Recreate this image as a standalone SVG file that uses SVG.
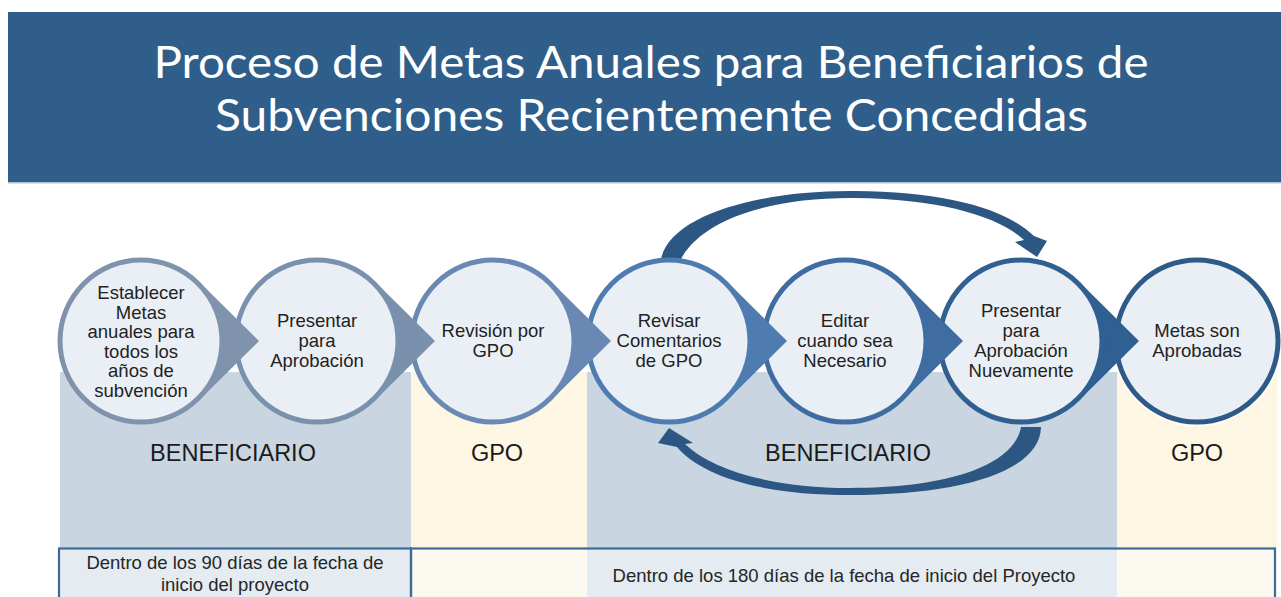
<svg xmlns="http://www.w3.org/2000/svg" width="1281" height="597" viewBox="0 0 1281 597">
<defs>
<style>
.title{font-family:Lato,"Open Sans","Liberation Sans",sans-serif;font-size:44px;fill:#ffffff;text-anchor:middle}
.nt{font-family:"Liberation Sans",Arial,sans-serif;font-size:18.5px;fill:#222222;text-anchor:middle}
.lbl{font-family:"Liberation Sans",Arial,sans-serif;font-size:23.5px;fill:#1a1a1a;text-anchor:middle}
.bt{font-family:"Liberation Sans",Arial,sans-serif;font-size:18.5px;fill:#262626;text-anchor:middle}
.ring{fill:#EAEFF5;stroke-width:5}
.halo{fill:none;stroke:#ffffff;stroke-width:2;opacity:0.8}
.loop{fill:#2C5783}
.blue{fill:#C9D6E1}
.cream{fill:#FDF6E3}
</style>
<path id="tear" d="M58.4,-59 L118,0 L58.4,59 A83,83 0 1 1 58.4,-59 Z"/>
</defs>
<rect width="1281" height="597" fill="#ffffff"/>
<g id="header">
<rect x="8" y="12" width="1273" height="170" fill="#2F5E8A"/>
<rect x="8" y="182" width="1273" height="1.5" fill="#AFC0D2"/>
<text class="title" x="651" y="78" textLength="995" lengthAdjust="spacingAndGlyphs">Proceso de Metas Anuales para Beneficiarios de</text>
<text class="title" x="651.5" y="131" textLength="873" lengthAdjust="spacingAndGlyphs">Subvenciones Recientemente Concedidas</text>
</g>
<g id="columns">
<rect class="blue" x="60" y="372" width="351" height="176"/>
<rect class="cream" x="411" y="372" width="176" height="176"/>
<rect class="blue" x="587" y="372" width="530" height="176"/>
<rect class="cream" x="1117" y="372" width="160" height="176"/>
</g>
<g id="bottom-row">
<rect x="59" y="548" width="352" height="60" fill="#E4EBF1"/>
<rect x="411" y="548" width="176" height="60" fill="#FCF9F1"/>
<rect x="587" y="548" width="530" height="60" fill="#E4EBF1"/>
<rect x="1117" y="548" width="158" height="60" fill="#FCF9F1"/>
<rect x="59" y="548.5" width="352" height="60" fill="none" stroke="#3C6A99" stroke-width="2.2"/>
<rect x="411" y="548.5" width="864" height="60" fill="none" stroke="#3C6A99" stroke-width="2.2"/>
<text class="bt" x="235" y="569">Dentro de los 90 días de la fecha de</text>
<text class="bt" x="235" y="591">inicio del proyecto</text>
<text class="bt" x="844" y="582">Dentro de los 180 días de la fecha de inicio del Proyecto</text>
</g>
<g id="connectors">
<path class="loop" d="M661,259 C670,215 760,190 855,191 C945,192 1005,208 1034,236 L1047,241 L1037,257 L1015,242 L1024,240 C998,216 940,199 855,198 C770,197 702,220 681,259 Z"/>
<path class="loop" d="M1041,427 C1040,472 960,495 850,495 C760,495 702,476 677,447 L658,443 L669,428 L693,443 L685,444 C712,470 772,488 850,488 C950,488 1014,465 1021,427 Z"/>
</g>
<g id="node7" transform="translate(1197,341)">
<circle class="halo" r="84.5"/>
<circle class="ring" r="81" stroke="#2D5A87"/>
<text class="nt" x="0" y="-4">Metas son</text>
<text class="nt" x="0" y="16">Aprobadas</text>
</g>
<g id="node6" transform="translate(1021,341)">
<use href="#tear" fill="#305F91"/>
<circle class="ring" r="81" stroke="#305F91"/>
<text class="nt" x="0" y="-24">Presentar</text>
<text class="nt" x="0" y="-4">para</text>
<text class="nt" x="0" y="16">Aprobación</text>
<text class="nt" x="0" y="36">Nuevamente</text>
</g>
<g id="node5" transform="translate(845,341)">
<use href="#tear" fill="#3F6DA2"/>
<circle class="ring" r="81" stroke="#3F6DA2"/>
<text class="nt" x="0" y="-14">Editar</text>
<text class="nt" x="0" y="6">cuando sea</text>
<text class="nt" x="0" y="26">Necesario</text>
</g>
<g id="node4" transform="translate(669,341)">
<use href="#tear" fill="#4E7CB0"/>
<circle class="ring" r="81" stroke="#4E7CB0"/>
<text class="nt" x="0" y="-14">Revisar</text>
<text class="nt" x="0" y="6">Comentarios</text>
<text class="nt" x="0" y="26">de GPO</text>
</g>
<g id="node3" transform="translate(493,341)">
<use href="#tear" fill="#6988B3"/>
<circle class="ring" r="81" stroke="#6988B3"/>
<text class="nt" x="0" y="-4">Revisión por</text>
<text class="nt" x="0" y="16">GPO</text>
</g>
<g id="node2" transform="translate(317,341)">
<use href="#tear" fill="#7A91AE"/>
<circle class="ring" r="81" stroke="#7A91AE"/>
<text class="nt" x="0" y="-14">Presentar</text>
<text class="nt" x="0" y="6">para</text>
<text class="nt" x="0" y="26">Aprobación</text>
</g>
<g id="node1" transform="translate(141,341)">
<use href="#tear" fill="#7F93AD"/>
<circle class="ring" r="81" stroke="#7F93AD"/>
<text class="nt" x="0" y="-42">Establecer</text>
<text class="nt" x="0" y="-22.4">Metas</text>
<text class="nt" x="0" y="-2.8">anuales para</text>
<text class="nt" x="0" y="16.8">todos los</text>
<text class="nt" x="0" y="36.4">años de</text>
<text class="nt" x="0" y="56">subvención</text>
</g>
<g id="labels">
<text class="lbl" x="233" y="461">BENEFICIARIO</text>
<text class="lbl" x="497" y="461">GPO</text>
<text class="lbl" x="848" y="461">BENEFICIARIO</text>
<text class="lbl" x="1197" y="461">GPO</text>
</g>
</svg>
